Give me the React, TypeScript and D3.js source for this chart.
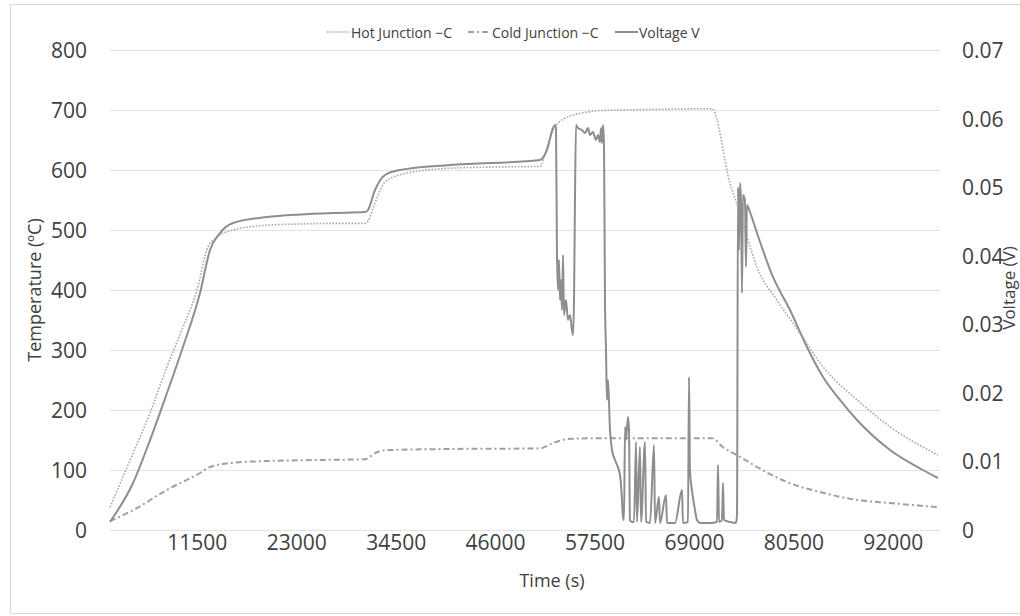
import React from "react";
import * as d3 from "d3";

// Hot junction temperature (°C) against elapsed time (s)
const hotTime = [1400, 4060, 6030, 7990, 9840, 11460, 12730, 13500, 15630, 19560, 23380, 27190, 30890, 31240, 32050, 33210, 34940, 37000, 40720, 46000, 51130, 52000, 52870, 54600, 56000, 58070, 64000, 69640, 71030, 73110, 74270, 75190, 76230, 78540, 81210, 83870, 87800, 91620, 97170];
const hotTemp = [38, 128, 195, 272, 338, 400, 472, 485, 500, 508, 510, 511, 511, 515, 545, 580, 592, 598, 603, 605, 606, 640, 672, 690, 695, 699, 701, 702, 702, 578, 528, 483, 438, 383, 328, 272, 217, 172, 125];

// Cold junction temperature (°C)
const coldTime = [1400, 4060, 7990, 11810, 12970, 15630, 19560, 27190, 30890, 32050, 33210, 40720, 51130, 52640, 54600, 58070, 69640, 71030, 72300, 74270, 76230, 80050, 83870, 87800, 91620, 97170];
const coldTemp = [15, 33, 67, 95, 105, 112, 115, 117, 118, 128, 133, 135, 136, 145, 152, 153, 153, 153, 138, 122, 105, 78, 62, 50, 45, 38];

// Thermoelectric output voltage (V)
const voltTime = [
  1400, 4060, 6030, 7990, 9840, 11810, 12970, 14120, 15630, 19560, 27190, 30890, 31240, 32050, 33210, 34940, 40720, 51130, 51940, 52640, 52870,
  52985, 53100, 53220, 53330, 53450, 53570, 53680, 53800, 53910, 54140, 54370, 54600, 54830, 54950, 55070, 55180, 55300, 55530, 55990, 56340,
  56690, 56920, 57260, 57610, 57840, 58070, 58190, 58300, 58420, 58540, 58650, 58770, 58880, 59000, 59230, 59460, 59810, 60390, 60620, 60730,
  60850, 60970, 61080, 61310, 61430, 61540, 61770, 62010, 62240, 62350, 62700, 62820, 63280, 63400, 63860, 64320, 64440, 64900, 65010, 65710,
  65820, 66750, 67560, 67670, 68250, 68370, 68480, 68710, 69060, 69290, 69640, 70800, 71610, 71720, 71840, 72180, 72300, 72420, 73110, 73800,
  73920, 74040, 74150, 74270, 74380, 74500, 74610, 74840, 74960, 75070, 75420, 76230, 78080, 80050, 82010, 83870, 85830, 87800, 91620, 95430, 97170,
];
const voltValue = [
  0.00117, 0.00685, 0.01312, 0.01998, 0.02669, 0.03456, 0.04083, 0.04331, 0.04477, 0.04565, 0.04623, 0.04637, 0.04667, 0.04958, 0.05177, 0.0525, 0.05323, 0.05396, 0.05542, 0.05862, 0.05906,
  0.05862, 0.0401, 0.035, 0.03937, 0.03354, 0.03646, 0.03208, 0.0401, 0.03135, 0.03354, 0.03062, 0.03135, 0.02917, 0.02844, 0.03354, 0.04812, 0.05906, 0.05862, 0.05833, 0.0579,
  0.05862, 0.0576, 0.05804, 0.05687, 0.0576, 0.05658, 0.05862, 0.05644, 0.05906, 0.05615, 0.03354, 0.02625, 0.01896, 0.02187, 0.01458, 0.01167, 0.01021, 0.00802, 0.00437, 0.0019,
  0.00146, 0.01502, 0.01312, 0.01648, 0.01458, 0.00146, 0.00117, 0.00117, 0.01283, 0.00117, 0.0121, 0.00117, 0.01283, 0.00117, 0.00102, 0.0124, 0.00102, 0.00481, 0.00102, 0.0051,
  0.00102, 0.00102, 0.00583, 0.00102, 0.00117, 0.02231, 0.00875, 0.00583, 0.00292, 0.00146, 0.00102, 0.00102, 0.00117, 0.00948, 0.00117, 0.00146, 0.00685, 0.00146, 0.00117, 0.00102,
  0.00219, 0.05002, 0.04083, 0.0506, 0.04812, 0.03456, 0.04885, 0.04812, 0.03835, 0.0474, 0.04637, 0.04331, 0.0369, 0.03208, 0.02669, 0.02231, 0.01896, 0.01604, 0.01167, 0.00875, 0.00758,
];

const tempTicks = [0, 100, 200, 300, 400, 500, 600, 700, 800];
const voltTicks = [0, 0.01, 0.02, 0.03, 0.04, 0.05, 0.06, 0.07];
const timeTicks = [11500, 23000, 34500, 46000, 57500, 69000, 80500, 92000];

const legendItems = [
  { label: "Hot Junction \u2212C", dash: "1.6 1.6", color: "#a8a8a8", width: 1.6 },
  { label: "Cold Junction \u2212C", dash: "6 3 2 3", color: "#a0a0a0", width: 2 },
  { label: "Voltage V", dash: "", color: "#8e8e8e", width: 2 },
];

const FONT = "'Open Sans', 'Noto Sans', sans-serif";

export default function App() {
  const W = 1020;
  const H = 616;
  const left = 110;
  const right = 940;
  const top = 50;
  const bottom = 530;

  const x = d3.scaleLinear().domain([1400, 97400]).range([left, right]);
  const yT = d3.scaleLinear().domain([0, 800]).range([bottom, top]);
  const yV = d3.scaleLinear().domain([0, 0.07]).range([bottom, top]);

  const hotLine = d3
    .line<number>()
    .x((_, i) => x(hotTime[i]))
    .y((d) => yT(d))
    .curve(d3.curveMonotoneX);
  const coldLine = d3
    .line<number>()
    .x((_, i) => x(coldTime[i]))
    .y((d) => yT(d))
    .curve(d3.curveMonotoneX);
  const voltLine = d3
    .line<number>()
    .x((_, i) => x(voltTime[i]))
    .y((d) => yV(d))
    .curve(d3.curveMonotoneX);

  const fmtV = (v: number) => (v === 0 ? "0" : d3.format(".2f")(v));

  const legendStarts = [327, 468, 615];

  return (
    <svg
      width={W}
      height={H}
      style={{ position: "absolute", left: 0, top: 0, background: "#fff" }}
      fontFamily={FONT}
    >
      <rect x={10.5} y={4.5} width={1040} height={609} fill="#fff" stroke="#d9d9d9" />

      {/* horizontal gridlines */}
      {tempTicks.map((t) => (
        <line
          key={"g" + t}
          x1={left}
          x2={right}
          y1={Math.round(yT(t)) + 0.5}
          y2={Math.round(yT(t)) + 0.5}
          stroke="#e3e3e3"
          strokeWidth={1}
        />
      ))}

      {/* left axis labels */}
      {tempTicks.map((t) => (
        <text
          key={"lt" + t}
          x={87}
          y={yT(t)}
          textAnchor="end"
          dominantBaseline="central"
          fontSize={21}
          fill="#404040"
        >
          {t}
        </text>
      ))}

      {/* right axis labels */}
      {voltTicks.map((v) => (
        <text
          key={"rt" + v}
          x={962}
          y={yV(v)}
          textAnchor="start"
          dominantBaseline="central"
          fontSize={21}
          fill="#404040"
        >
          {fmtV(v)}
        </text>
      ))}

      {/* bottom axis labels */}
      {timeTicks.map((t) => (
        <text
          key={"bt" + t}
          x={x(t)}
          y={542}
          textAnchor="middle"
          dominantBaseline="central"
          fontSize={21}
          fill="#404040"
        >
          {t}
        </text>
      ))}

      {/* axis titles */}
      <text
        transform={`translate(34,${290}) rotate(-90)`}
        textAnchor="middle"
        dominantBaseline="central"
        fontSize={18}
        fill="#404040"
      >
        Temperature (ºC)
      </text>
      <text
        transform={`translate(1008,${288}) rotate(-90)`}
        textAnchor="middle"
        dominantBaseline="central"
        fontSize={17}
        fill="#404040"
      >
        Voltage (V)
      </text>
      <text x={552} y={580} textAnchor="middle" dominantBaseline="central" fontSize={18} fill="#404040">
        Time (s)
      </text>

      {/* series */}
      <path d={coldLine(coldTemp) || ""} fill="none" stroke="#a0a0a0" strokeWidth={2} strokeDasharray="6 3 2 3" />
      <path d={hotLine(hotTemp) || ""} fill="none" stroke="#a8a8a8" strokeWidth={1.6} strokeDasharray="1.6 1.6" />
      <path d={voltLine(voltValue) || ""} fill="none" stroke="#8e8e8e" strokeWidth={2} strokeLinejoin="round" />

      {/* legend */}
      {legendItems.map((it, i) => (
        <g key={it.label}>
          <line
            x1={legendStarts[i]}
            x2={legendStarts[i] + 23}
            y1={32}
            y2={32}
            stroke={it.color}
            strokeWidth={it.width}
            strokeDasharray={it.dash || undefined}
          />
          <text x={legendStarts[i] + 24} y={32} dominantBaseline="central" fontSize={14} fill="#404040">
            {it.label}
          </text>
        </g>
      ))}
    </svg>
  );
}
